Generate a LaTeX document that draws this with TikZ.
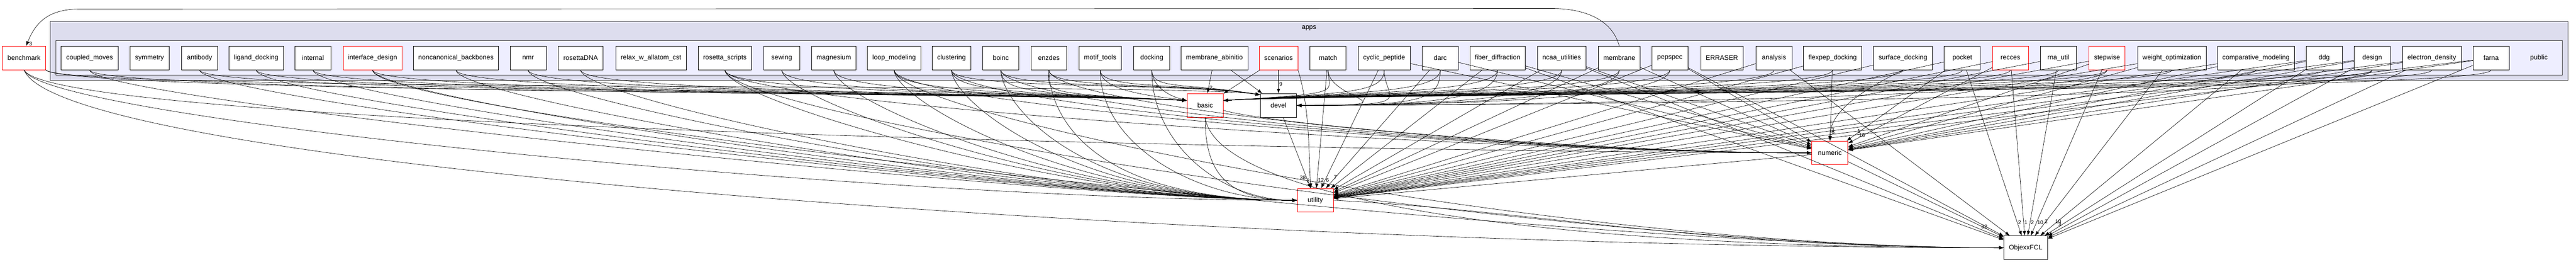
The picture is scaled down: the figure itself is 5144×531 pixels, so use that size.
\documentclass[tikz,border=0pt]{standalone}
\usepackage{fontspec}
\setmainfont{Liberation Sans}
\usepackage{tikz}
\usetikzlibrary{arrows.meta}
\tikzset{>=latex}
\definecolor{appsfill}{HTML}{DDDDEE}
\definecolor{pubfill}{HTML}{EEEEFF}
\definecolor{clusline}{HTML}{444444}
\tikzset{
  dirbox/.style = {rectangle, draw=black, fill=white, line width=0.6pt, minimum width=54pt, minimum height=35.25pt, inner xsep=7.5pt, font=\fontsize{10}{12}\selectfont},
  redbox/.style = {dirbox, draw=red},
  dep/.style = {-{Latex[length=7pt,width=5pt]}, draw=black, line width=0.5pt},
  cnt/.style = {font=\fontsize{8}{8}\selectfont, inner sep=1pt}
}

\begin{document}
\begin{tikzpicture}[x=0.75pt, y=-0.75pt]
\useasboundingbox (0,0) rectangle (5144,531);
% clusters
\draw [clusline, fill=appsfill, line width=0.7pt] (100,43) rectangle (5128,160);
\draw [clusline, fill=pubfill, line width=0.7pt] (112,81) rectangle (5117,150);
\node [font=\fontsize{10}{12}\selectfont] (appslbl) at (2614,56) {apps};
\node [font=\fontsize{10}{12}\selectfont] (publbl) at (5070,115.5) {public};

% directories
\node [redbox] (benchmark) at (48,115.5) {benchmark};
\node [dirbox] (coupledmoves) at (179,115.5) {coupled\_moves};
\node [dirbox] (symmetry) at (298.5,115.5) {symmetry};
\node [dirbox] (antibody) at (398.5,115.5) {antibody};
\node [dirbox] (liganddocking) at (511.5,115.5) {ligand\_docking};
\node [dirbox] (internal) at (625,115.5) {internal};
\node [redbox] (interfacedesign) at (744,115.5) {interface\_design};
\node [dirbox] (noncanonical) at (910.5,115.5) {noncanonical\_backbones};
\node [dirbox] (nmr) at (1054.5,115.5) {nmr};
\node [dirbox] (rosettadna) at (1159.5,115.5) {rosettaDNA};
\node [dirbox] (relax) at (1300,115.5) {relax\_w\_allatom\_cst};
\node [dirbox] (rosettascripts) at (1447.5,115.5) {rosetta\_scripts};
\node [dirbox] (sewing) at (1561,115.5) {sewing};
\node [dirbox] (magnesium) at (1665,115.5) {magnesium};
\node [dirbox] (loopmodeling) at (1785.5,115.5) {loop\_modeling};
\node [dirbox] (clustering) at (1900,115.5) {clustering};
\node [dirbox] (boinc) at (1998.5,115.5) {boinc};
\node [dirbox] (enzdes) at (2094.5,115.5) {enzdes};
\node [dirbox] (motiftools) at (2197,115.5) {motif\_tools};
\node [dirbox] (docking) at (2300,115.5) {docking};
\node [dirbox] (membraneabinitio) at (2425,115.5) {membrane\_abinitio};
\node [redbox] (scenarios) at (2553,115.5) {scenarios};
\node [dirbox] (match) at (2652,115.5) {match};
\node [dirbox] (cyclicpeptide) at (2764,115.5) {cyclic\_peptide};
\node [dirbox] (darc) at (2876,115.5) {darc};
\node [dirbox] (fiber) at (2990.5,115.5) {fiber\_diffraction};
\node [dirbox] (ncaa) at (3118.5,115.5) {ncaa\_utilities};
\node [dirbox] (membrane) at (3233.5,115.5) {membrane};
\node [dirbox] (pepspec) at (3334.5,115.5) {pepspec};
\node [dirbox] (erraser) at (3438.5,115.5) {ERRASER};
\node [dirbox] (analysis) at (3542.5,115.5) {analysis};
\node [dirbox] (flexpep) at (3659.5,115.5) {flexpep\_docking};
\node [dirbox] (surface) at (3800,115.5) {surface\_docking};
\node [dirbox] (pocket) at (3918.5,115.5) {pocket};
\node [redbox] (recces) at (4014.5,115.5) {recces};
\node [dirbox] (rnautil) at (4110.5,115.5) {rna\_util};
\node [redbox] (stepwise) at (4207.5,115.5) {stepwise};
\node [dirbox] (weightopt) at (4337,115.5) {weight\_optimization};
\node [dirbox] (comparative) at (4505,115.5) {comparative\_modeling};
\node [dirbox] (ddg) at (4641,115.5) {ddg};
\node [dirbox] (design) at (4737,115.5) {design};
\node [dirbox] (electron) at (4856,115.5) {electron\_density};
\node [dirbox] (farna) at (4974.5,115.5) {farna};

\node [redbox] (basic) at (2406.5,210) {basic};
\node [dirbox] (devel) at (2553,210) {devel};
\node [redbox] (utility) at (2626.5,399) {utility};
\node [redbox] (numeric) at (3654,304.5) {numeric};
\node [dirbox] (ObjexxFCL) at (4045,493.5) {ObjexxFCL};

% benchmark
\draw [dep] (membrane.north) .. controls +(-15,-55) and +(60,0) .. (3100,17) -- (160,18) .. controls +(-60,0) and +(20,-50) .. (benchmark.80) node [cnt, pos=0.97, right=2pt] {3};
\draw [dep] (benchmark.south east) .. controls +(40,45) and +(-300,-15) .. (basic.165);
\draw [dep] (benchmark.south east) .. controls +(40,45) and +(-150,-25) .. (devel.150);
\draw [dep] (benchmark.south) .. controls +(60,120) and +(-700,0) .. (numeric.west);
\draw [dep] (benchmark.south) .. controls +(80,200) and +(-1500,0) .. (ObjexxFCL.west);
\draw [dep] (benchmark.south) .. controls +(40,100) and +(-800,0) .. (utility.west);

% left apps
\foreach \a in {coupledmoves,antibody,liganddocking,internal,interfacedesign,noncanonical,nmr,rosettadna,rosettascripts,sewing,magnesium,loopmodeling,clustering,boinc,enzdes} {
  \draw [dep] (\a.south) .. controls +(0,45) and +(-300,-15) .. (basic.165);
  \draw [dep] (\a.south) .. controls +(0,60) and +(-450,0) .. (utility.west);
}
\foreach \a in {rosettascripts,loopmodeling,clustering,boinc,enzdes}
  \draw [dep] (\a.south) .. controls +(0,70) and +(-600,0) .. (numeric.west);
\foreach \a in {interfacedesign,rosettascripts,loopmodeling}
  \draw [dep] (\a.south) .. controls +(0,90) and +(-900,0) .. (ObjexxFCL.west);
\foreach \a in {clustering,boinc,enzdes,motiftools,docking}
  \draw [dep] (\a.south) .. controls +(0,40) and +(-150,-25) .. (devel.150);

% middle apps
\draw [dep] (motiftools.south) .. controls +(0,40) and +(-80,-10) .. (basic.165);
\draw [dep] (docking.south) .. controls +(0,30) and +(-40,-10) .. (basic.165);
\draw [dep] (motiftools.south) .. controls +(0,150) and +(-200,0) .. (utility.west);
\draw [dep] (docking.south) .. controls +(0,150) and +(-150,0) .. (utility.west);
\draw [dep] (membraneabinitio) -- (basic) node [cnt, pos=0.75, right] {2};
\draw [dep] (membraneabinitio) -- (devel);
\draw [dep] (scenarios) -- (basic);
\draw [dep] (scenarios) -- (devel) node [cnt, pos=0.6, right] {9};
\draw [dep] (scenarios.south east) .. controls +(25,80) and +(-5,-60) .. (utility.110) node [cnt, pos=0.95, above left] {2};

% right apps
\foreach \a in {match,cyclicpeptide,darc,fiber,ncaa,membrane,pepspec,analysis,flexpep,surface,pocket,recces,rnautil,stepwise,weightopt,comparative,ddg,design,electron,farna}
  \draw [dep] (\a.south) .. controls +(0,45) and +(250,-15) .. (basic.15);
\foreach \a in {match,cyclicpeptide,darc,fiber,ncaa,membrane,pepspec,stepwise,design}
  \draw [dep] (\a.south) .. controls +(0,60) and +(250,0) .. (devel.east);
\draw [dep] (match) -- (utility) node [cnt, pos=0.93, right] {12};
\draw [dep] (cyclicpeptide) -- (utility) node [cnt, pos=0.93, right] {6};
\draw [dep] (darc) -- (utility) node [cnt, pos=0.93, above right] {7};
\foreach \a in {fiber,ncaa,membrane,pepspec,analysis,flexpep,surface,pocket,recces,rnautil,stepwise,weightopt,comparative,ddg,design,electron,farna}
  \draw [dep] (\a) -- (utility);
\foreach \a in {cyclicpeptide,darc,fiber,ncaa,membrane,pepspec,stepwise,weightopt,comparative,ddg,design,electron,farna}
  \draw [dep] (\a) -- (numeric);
\draw [dep] (flexpep) -- (numeric) node [cnt, pos=0.85, right] {3};
\draw [dep] (surface.south) .. controls +(-80,40) and +(0,-60) .. (numeric.north) node [cnt, pos=0.9, right] {8};
\draw [dep] (pocket) -- (numeric) node [cnt, pos=0.9, above right] {1};
\draw [dep] (recces) -- (numeric) node [cnt, pos=0.93, above right] {16};
\foreach \a in {fiber,ncaa,pepspec,analysis,design,electron,farna}
  \draw [dep] (\a) -- (ObjexxFCL);
\draw [dep] (pocket) -- (ObjexxFCL) node [cnt, pos=0.92, right] {2};
\draw [dep] (recces) -- (ObjexxFCL) node [cnt, pos=0.92, right] {1};
\draw [dep] (rnautil) -- (ObjexxFCL) node [cnt, pos=0.92, right] {2};
\draw [dep] (stepwise) -- (ObjexxFCL) node [cnt, pos=0.92, right] {10};
\draw [dep] (weightopt) -- (ObjexxFCL) node [cnt, pos=0.93, above right] {2};
\draw [dep] (comparative) -- (ObjexxFCL) node [cnt, pos=0.93, above right] {10};
\draw [dep] (ddg) -- (ObjexxFCL) node [cnt, pos=0.95, above right] {3};

% libraries
\draw [dep] (basic.south) .. controls +(0,100) and +(-150,0) .. (utility.west);
\draw [dep] (basic.-15) .. controls +(100,30) and +(-400,0) .. (numeric.west);
\draw [dep] (basic.south) .. controls +(20,150) and +(-1000,0) .. (ObjexxFCL.west);
\draw [dep] (devel) -- (utility) node [cnt, pos=0.85, left] {38};
\draw [dep] (numeric) -- (utility);
\draw [dep] (numeric) -- (ObjexxFCL) node [cnt, pos=0.9, above left] {32};
\draw [dep] (utility.east) .. controls +(400,20) and +(-600,0) .. (ObjexxFCL.west);
\end{tikzpicture}
\end{document}
